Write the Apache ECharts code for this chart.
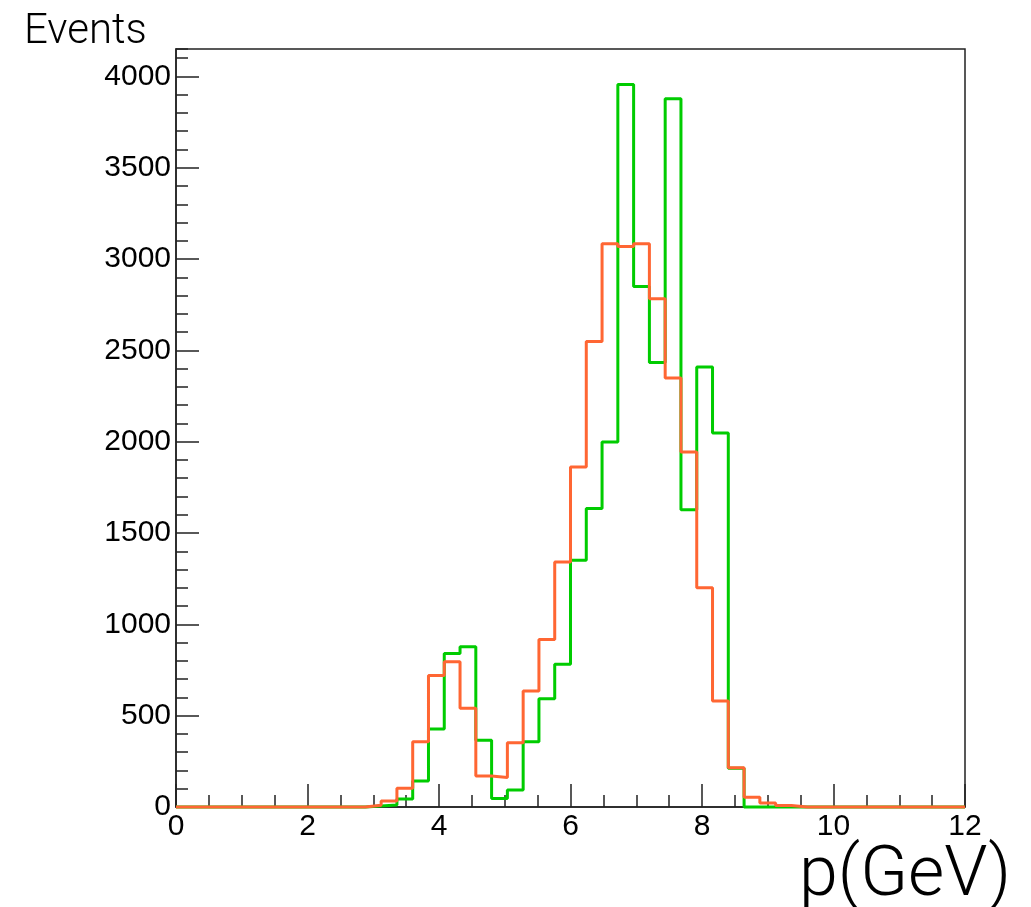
<!DOCTYPE html>
<html>
<head>
<meta charset="utf-8">
<script src="https://cdn.jsdelivr.net/npm/echarts@6/dist/echarts.min.js"></script>
<style>
  html, body { margin: 0; padding: 0; background: #fff; }
  #chart { width: 1031px; height: 907px; }
</style>
</head>
<body>
<div id="chart"></div>
<script>
// Histogram binning: 50 bins of width 0.24 GeV over [0, 12]
const xMin = 0;
const xMax = 12;
const binWidth = 0.24;

// Bin contents, 50 bins each
const greenCounts = [
  0, 0, 0, 0, 0, 0, 0, 0, 0, 0,
  0, 0, 5, 11, 44, 142, 427, 841, 877, 366,
  47, 93, 357, 592, 781, 1351, 1634, 1998, 3955, 2850,
  2433, 3877, 1628, 2409, 2048, 212, 0, 0, 0, 0,
  0, 0, 0, 0, 0, 0, 0, 0, 0, 0
];
const orangeCounts = [
  0, 0, 0, 0, 0, 0, 0, 0, 0, 0,
  0, 0, 10, 33, 102, 357, 720, 795, 540, 170,
  162, 352, 635, 917, 1342, 1862, 2549, 3084, 3069, 3084,
  2783, 2349, 1944, 1200, 580, 215, 54, 22, 8, 0,
  0, 0, 0, 0, 0, 0, 0, 0, 0, 0
];

const yMax = 4150;
const xTitle = 'p(GeV)';
const yTitle = 'Events';

function toSteps(counts) {
  const pts = counts.map((c, i) => [xMin + i * binWidth, c]);
  pts.push([xMax, counts[counts.length - 1]]);
  return pts;
}

const labelFont = { fontFamily: '"Liberation Sans", Arial, sans-serif', fontSize: 30, color: '#000' };

const chart = echarts.init(document.getElementById('chart'), null, { renderer: 'canvas' });
chart.setOption({
  animation: false,
  backgroundColor: '#fff',
  grid: {
    left: 176, right: 66, top: 49, bottom: 100,
    show: true, borderColor: '#222', borderWidth: 1.5, backgroundColor: 'transparent'
  },
  xAxis: {
    type: 'value', min: xMin, max: xMax, interval: 2,
    axisLine: { show: true, onZero: false, lineStyle: { color: '#222', width: 1.5 } },
    axisTick: { show: true, inside: true, length: 23, lineStyle: { color: '#222', width: 1.5 } },
    minorTick: { show: true, splitNumber: 4, length: 12, lineStyle: { color: '#222', width: 1.5 } },
    splitLine: { show: false },
    axisLabel: Object.assign({ margin: 5 }, labelFont)
  },
  yAxis: [{
    type: 'value', min: 0, max: yMax, interval: 500,
    axisLine: { show: true, lineStyle: { color: '#222', width: 1.5 } },
    axisTick: { show: true, inside: true, length: 23, lineStyle: { color: '#222', width: 1.5 } },
    minorTick: { show: false },
    splitLine: { show: false },
    axisLabel: Object.assign({ margin: 5, showMaxLabel: false,
      formatter: v => (v % 500 === 0 ? String(v) : '') }, labelFont)
  }, {
    type: 'value', min: 0, max: yMax, interval: 100, position: 'left',
    axisLine: { show: false },
    axisTick: { show: true, inside: true, length: 12, lineStyle: { color: '#222', width: 1.5 } },
    splitLine: { show: false },
    axisLabel: { show: false }
  }],
  graphic: [
    { type: 'text', left: 24, top: 11, silent: true,
      style: { text: yTitle, font: '300 42px Roboto, "Liberation Sans", sans-serif', fill: '#000' } },
    { type: 'text', right: 20, bottom: -5, silent: true,
      style: { text: xTitle, font: '300 70px Roboto, "Liberation Sans", sans-serif', fill: '#000' } }
  ],
  series: [
    {
      name: 'green', type: 'line', step: 'end', showSymbol: false, clip: false,
      yAxisIndex: 0,
      data: toSteps(greenCounts),
      lineStyle: { color: '#00cc00', width: 3 }, itemStyle: { color: '#00cc00' }, z: 3
    },
    {
      name: 'orange', type: 'line', step: 'end', showSymbol: false, clip: false,
      yAxisIndex: 0,
      data: toSteps(orangeCounts),
      lineStyle: { color: '#ff6633', width: 3 }, itemStyle: { color: '#ff6633' }, z: 4
    }
  ]
});
</script>
</body>
</html>
